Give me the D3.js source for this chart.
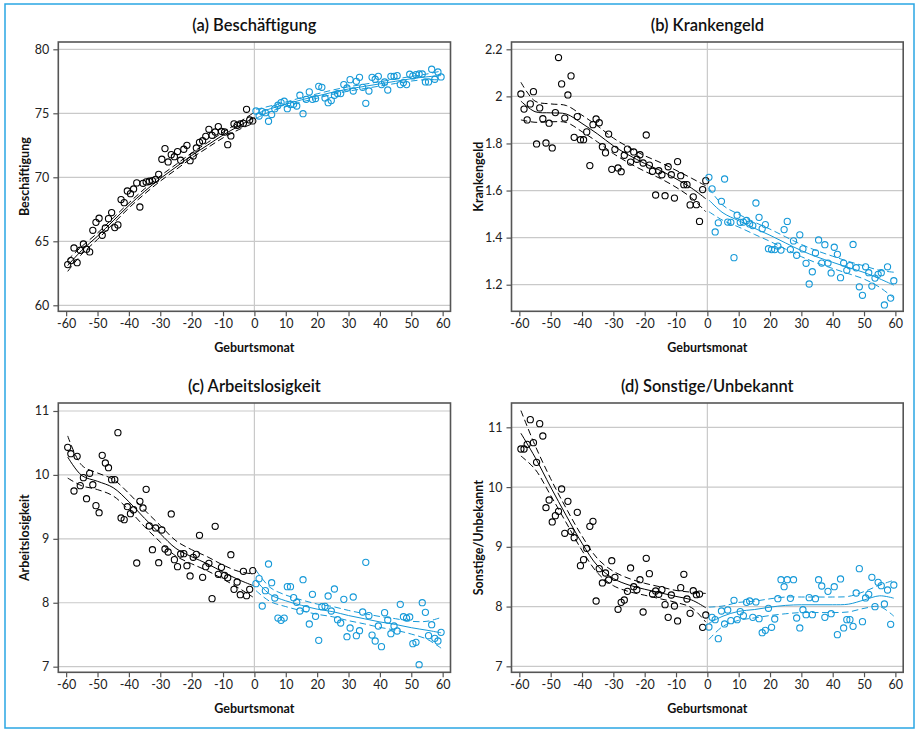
<!DOCTYPE html>
<html><head><meta charset="utf-8">
<script src="https://cdn.jsdelivr.net/npm/d3@7"></script>
<style>
html,body{margin:0;padding:0;background:#fff;}
svg{display:block;font-family:"Lato","Open Sans",sans-serif;}
</style></head>
<body><svg id="chart" width="917" height="729"></svg>
<script>
// ---------- DATA ----------
const monthsBefore = [-59.5,-58.5,-57.5,-56.5,-55.5,-54.5,-53.5,-52.5,-51.5,-50.5,-49.5,-48.5,-47.5,-46.5,-45.5,-44.5,-43.5,-42.5,-41.5,-40.5,-39.5,-38.5,-37.5,-36.5,-35.5,-34.5,-33.5,-32.5,-31.5,-30.5,-29.5,-28.5,-27.5,-26.5,-25.5,-24.5,-23.5,-22.5,-21.5,-20.5,-19.5,-18.5,-17.5,-16.5,-15.5,-14.5,-13.5,-12.5,-11.5,-10.5,-9.5,-8.5,-7.5,-6.5,-5.5,-4.5,-3.5,-2.5,-1.5,-0.5];
const monthsAfter = [0.5,1.5,2.5,3.5,4.5,5.5,6.5,7.5,8.5,9.5,10.5,11.5,12.5,13.5,14.5,15.5,16.5,17.5,18.5,19.5,20.5,21.5,22.5,23.5,24.5,25.5,26.5,27.5,28.5,29.5,30.5,31.5,32.5,33.5,34.5,35.5,36.5,37.5,38.5,39.5,40.5,41.5,42.5,43.5,44.5,45.5,46.5,47.5,48.5,49.5,50.5,51.5,52.5,53.5,54.5,55.5,56.5,57.5,58.5,59.5];
const fitMonthsBefore = [-59.5,-55,-50,-45,-40,-35,-30,-25,-20,-15,-10,-5,-0.5];
const fitMonthsAfter = [0.5,5,10,15,20,25,30,35,40,45,50,55,59.5];
const xTicks = [-60,-50,-40,-30,-20,-10,0,10,20,30,40,50,60];

// (a) Beschäftigung
const aBefore = [63.18,63.49,64.48,63.33,64.30,64.79,64.38,64.17,65.86,66.48,66.80,65.47,66.04,66.77,67.24,66.07,66.28,68.26,68.02,68.93,68.72,69.09,69.56,67.68,69.53,69.64,69.69,69.74,69.84,70.23,71.41,72.24,71.20,71.77,71.61,72.01,71.33,72.19,72.50,71.30,71.67,72.29,72.73,72.86,73.20,73.75,73.28,73.54,73.96,73.59,73.54,72.55,73.23,74.17,74.06,74.17,74.22,75.31,74.48,74.40];
const aAfter = [75.18,74.79,75.13,75.05,74.38,74.90,75.36,75.63,75.83,75.94,75.36,75.68,75.70,75.57,76.41,74.97,76.09,76.67,76.09,76.15,77.11,77.03,76.20,75.83,75.99,76.41,76.54,76.54,77.24,76.98,77.63,76.74,77.50,77.81,77.03,75.78,76.74,77.81,77.66,77.89,77.24,77.45,76.82,77.89,77.89,77.94,77.24,77.40,77.24,78.05,77.92,78.02,78.07,78.07,77.45,77.45,78.44,77.66,78.23,77.84];
const aFitBefore = [63.1,64.3,65.4,66.6,67.8,68.9,69.9,70.8,71.7,72.5,73.3,74.0,74.6];
const aCiBefore = [0.45,0.3,0.25,0.22,0.2,0.2,0.2,0.2,0.2,0.2,0.22,0.28,0.4];
const aFitAfter = [74.95,75.35,75.7,76.05,76.35,76.65,76.9,77.1,77.3,77.5,77.7,77.85,77.95];
const aCiAfter = [0.35,0.22,0.18,0.17,0.17,0.17,0.17,0.17,0.17,0.17,0.18,0.22,0.35];

// (b) Krankengeld
const bBefore = [2.010,1.946,1.900,1.968,2.020,1.798,1.951,1.905,1.802,1.886,1.781,1.931,2.165,2.053,1.908,2.006,2.087,1.826,1.914,1.816,1.816,1.849,1.706,1.880,1.904,1.888,1.786,1.760,1.840,1.690,1.775,1.696,1.680,1.750,1.776,1.721,1.764,1.733,1.752,1.717,1.836,1.708,1.682,1.581,1.684,1.667,1.578,1.701,1.667,1.568,1.723,1.663,1.625,1.625,1.539,1.573,1.540,1.469,1.604,1.642];
const bAfter = [1.656,1.607,1.424,1.463,1.554,1.649,1.466,1.465,1.315,1.495,1.465,1.466,1.473,1.458,1.451,1.547,1.486,1.438,1.455,1.353,1.349,1.349,1.364,1.347,1.434,1.469,1.349,1.386,1.325,1.412,1.352,1.291,1.203,1.255,1.335,1.390,1.292,1.370,1.292,1.250,1.359,1.329,1.230,1.292,1.261,1.281,1.371,1.272,1.191,1.155,1.276,1.251,1.194,1.228,1.244,1.251,1.114,1.276,1.143,1.217];
const bFitBefore = [1.98,1.935,1.93,1.925,1.885,1.84,1.79,1.75,1.715,1.685,1.65,1.61,1.565];
const bCiBefore = [0.08,0.045,0.038,0.036,0.035,0.034,0.033,0.033,0.033,0.034,0.036,0.042,0.055];
const bFitAfter = [1.56,1.505,1.472,1.44,1.41,1.377,1.345,1.318,1.295,1.273,1.252,1.225,1.198];
const bCiAfter = [0.05,0.032,0.027,0.026,0.026,0.026,0.026,0.026,0.026,0.026,0.028,0.036,0.055];

// (c) Arbeitslosigkeit
const cBefore = [10.432,10.332,9.748,10.291,9.832,9.957,9.628,10.025,9.847,9.519,9.409,10.306,10.186,10.113,9.926,9.926,10.661,9.326,9.300,9.503,9.394,9.456,8.622,9.587,9.482,9.774,9.201,8.830,9.170,8.627,9.138,8.841,8.794,9.389,8.674,8.565,8.763,8.768,8.580,8.419,8.711,8.757,9.055,8.398,8.565,8.617,8.064,9.196,8.445,8.554,8.429,8.392,8.752,8.210,8.325,8.126,8.492,8.111,8.210,8.502];
const cAfter = [8.299,8.377,7.949,8.189,8.606,8.314,8.074,7.761,7.725,7.761,8.252,8.252,8.080,8.007,7.871,8.361,7.907,7.668,8.132,7.787,7.412,7.939,7.944,8.106,7.871,8.215,7.735,7.683,8.053,7.469,7.605,8.090,7.485,7.563,7.855,8.632,7.798,7.495,7.402,7.636,7.313,7.845,7.730,7.516,7.636,7.558,7.975,7.782,7.761,7.777,7.360,7.381,7.031,8.001,7.850,7.485,7.657,7.443,7.402,7.537];
const cFitBefore = [10.28,9.99,9.9,9.8,9.58,9.32,9.08,8.85,8.72,8.61,8.48,8.36,8.27];
const cCiBefore = [0.33,0.16,0.13,0.13,0.13,0.13,0.13,0.12,0.11,0.11,0.11,0.13,0.18];
const cFitAfter = [8.35,8.13,8.03,7.96,7.9,7.86,7.8,7.75,7.7,7.66,7.61,7.57,7.53];
const cCiAfter = [0.16,0.11,0.09,0.085,0.08,0.08,0.08,0.08,0.085,0.09,0.1,0.14,0.24];

// (d) Sonstige/Unbekannt
const dBefore = [10.637,10.637,10.715,11.128,10.743,10.414,11.061,10.855,9.655,9.784,9.416,9.522,9.594,9.968,9.226,9.761,9.259,9.153,9.577,8.685,8.785,8.975,9.343,9.427,8.093,8.635,8.395,8.562,8.445,8.768,8.490,7.954,8.071,8.110,8.255,8.646,8.333,8.283,8.450,7.909,8.808,8.551,8.210,8.261,8.205,8.283,8.032,7.820,8.194,8.010,7.759,8.317,8.540,8.127,7.887,8.266,8.199,8.210,7.652,7.859];
const dAfter = [7.658,7.820,7.781,7.463,7.926,7.709,7.943,7.764,8.105,7.781,7.915,7.848,8.071,8.093,7.820,8.077,7.798,7.563,7.602,7.971,7.653,7.792,8.132,8.450,8.333,8.450,8.138,8.450,7.809,7.642,7.948,7.865,8.149,7.865,8.132,8.450,8.344,7.820,8.255,7.881,8.333,7.530,8.462,7.642,7.781,7.781,7.669,8.227,8.635,7.748,8.144,8.205,8.490,7.999,8.406,8.350,8.043,8.277,7.703,8.361];
const dFitBefore = [10.9,10.5,10.0,9.52,9.06,8.68,8.47,8.36,8.29,8.23,8.17,8.11,7.98];
const dCiBefore = [0.38,0.2,0.14,0.12,0.12,0.12,0.12,0.11,0.1,0.1,0.1,0.13,0.24];
const dFitAfter = [7.72,7.84,7.92,7.95,7.99,8.02,8.03,8.03,8.03,8.04,8.11,8.18,8.14];
const dCiAfter = [0.27,0.17,0.15,0.14,0.14,0.14,0.13,0.13,0.13,0.13,0.14,0.18,0.3];

const titles = ["(a) Beschäftigung","(b) Krankengeld","(c) Arbeitslosigkeit","(d) Sonstige/Unbekannt"];
const yLabels = ["Beschäftigung","Krankengeld","Arbeitslosigkeit","Sonstige/Unbekannt"];
const yTicksA = [60,65,70,75,80];
const yTicksB = [1.2,1.4,1.6,1.8,2.0,2.2];
const yTicksC = [7,8,9,10,11];
const yTicksD = [7,8,9,10,11];
const xLabel = "Geburtsmonat";

// ---------- LAYOUT ----------
const BLUE = "#1599d8";
const panels = [
  {title:titles[0], ylab:yLabels[0], before:aBefore, after:aAfter, fb:aFitBefore, cb:aCiBefore, fa:aFitAfter, ca:aCiAfter, yt:yTicksA, ydom:[59.53,80.57], x0:58.3, x1:450.5, y0:42, y1:311.3, ylabX:25},
  {title:titles[1], ylab:yLabels[1], before:bBefore, after:bAfter, fb:bFitBefore, cb:bCiBefore, fa:bFitAfter, ca:bCiAfter, yt:yTicksB, ydom:[1.087,2.231], x0:511.5, x1:903.2, y0:42, y1:311.3, ylabX:479},
  {title:titles[2], ylab:yLabels[2], before:cBefore, after:cAfter, fb:cFitBefore, cb:cCiBefore, fa:cFitAfter, ca:cCiAfter, yt:yTicksC, ydom:[6.912,11.125], x0:58.3, x1:450.5, y0:403, y1:672.3, ylabX:25},
  {title:titles[3], ylab:yLabels[3], before:dBefore, after:dAfter, fb:dFitBefore, cb:dCiBefore, fa:dFitAfter, ca:dCiAfter, yt:yTicksD, ydom:[6.9,11.407], x0:511.5, x1:903.2, y0:403, y1:672.3, ylabX:479}
];

const svg = d3.select("#chart");
svg.append("rect").attr("x",5).attr("y",4).attr("width",909).attr("height",724)
  .attr("fill","none").attr("stroke","#2aa6e3").attr("stroke-width",1.5);

panels.forEach(p => {
  const x = d3.scaleLinear().domain([-62.5,62.5]).range([p.x0,p.x1]);
  const y = d3.scaleLinear().domain(p.ydom).range([p.y1,p.y0]);
  const g = svg.append("g");

  // grid
  g.selectAll(".hg").data(p.yt).join("line")
    .attr("x1",p.x0).attr("x2",p.x1).attr("y1",d=>y(d)).attr("y2",d=>y(d))
    .attr("stroke","#c9c9c9").attr("stroke-width",1.2);
  g.append("line").attr("x1",x(0)).attr("x2",x(0)).attr("y1",p.y0).attr("y2",p.y1)
    .attr("stroke","#c9c9c9").attr("stroke-width",1.2);

  // axes
  const xa = g.append("g").attr("transform",`translate(0,${p.y1})`)
    .call(d3.axisBottom(x).tickValues(xTicks).tickFormat(d=>String(d)).tickSize(5).tickPadding(3).tickSizeOuter(0));
  const ya = g.append("g").attr("transform",`translate(${p.x0},0)`)
    .call(d3.axisLeft(y).tickValues(p.yt).tickFormat(d=>String(d)).tickSize(5).tickPadding(4).tickSizeOuter(0));
  [xa,ya].forEach(a=>{
    a.select(".domain").remove();
    a.selectAll(".tick line").attr("stroke","#555").attr("stroke-width",1.2);
    a.selectAll(".tick text").attr("fill","#222").style("font-size","12.5px").style("font-family","Lato, 'Open Sans', sans-serif");
  });

  // frame
  g.append("rect").attr("x",p.x0).attr("y",p.y0).attr("width",p.x1-p.x0).attr("height",p.y1-p.y0)
    .attr("fill","none").attr("stroke","#555").attr("stroke-width",1.6);

  // fit lines
  const line = d3.line().x(d=>x(d[0])).y(d=>y(d[1])).curve(d3.curveCatmullRom.alpha(0.5));
  const drawFit = (months, fit, ci, color) => {
    const mid = months.map((m,i)=>[m,fit[i]]);
    const up = months.map((m,i)=>[m,fit[i]+ci[i]]);
    const lo = months.map((m,i)=>[m,fit[i]-ci[i]]);
    g.append("path").attr("d",line(mid)).attr("fill","none").attr("stroke",color).attr("stroke-width",1);
    [up,lo].forEach(s=>g.append("path").attr("d",line(s)).attr("fill","none").attr("stroke",color)
      .attr("stroke-width",1).attr("stroke-dasharray","6.5,3.5"));
  };
  drawFit(fitMonthsBefore, p.fb, p.cb, "#000");
  drawFit(fitMonthsAfter, p.fa, p.ca, BLUE);

  // points
  g.selectAll(".pb").data(p.before.map((v,i)=>[monthsBefore[i],v])).join("circle")
    .attr("cx",d=>x(d[0])).attr("cy",d=>y(d[1])).attr("r",3.1)
    .attr("fill","none").attr("stroke","#000").attr("stroke-width",1.1);
  g.selectAll(".pa").data(p.after.map((v,i)=>[monthsAfter[i],v])).join("circle")
    .attr("cx",d=>x(d[0])).attr("cy",d=>y(d[1])).attr("r",3.1)
    .attr("fill","none").attr("stroke",BLUE).attr("stroke-width",1.1);

  // titles
  g.append("text").attr("x",(p.x0+p.x1)/2).attr("y",p.y0-11).attr("text-anchor","middle")
    .style("font-size","16.5px").style("font-weight","600").attr("fill","#111").text(p.title);
  g.append("text").attr("x",(p.x0+p.x1)/2).attr("y",p.y1+41).attr("text-anchor","middle")
    .style("font-size","12.5px").style("font-weight","700").attr("fill","#111").text(xLabel);
  g.append("text").attr("transform",`translate(${p.ylabX},${(p.y0+p.y1)/2}) rotate(-90)`)
    .attr("text-anchor","middle").attr("dy","0.35em")
    .style("font-size","12.5px").style("font-weight","700").attr("fill","#111").text(p.ylab);
});
</script></body></html>
